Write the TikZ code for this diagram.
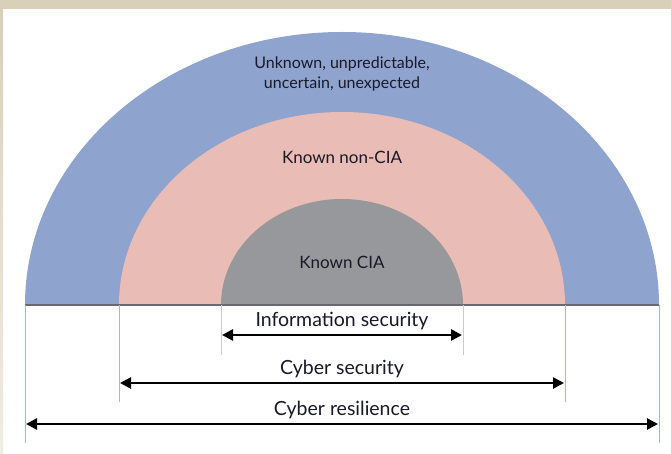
\documentclass[tikz,border=0pt]{standalone}
\usepackage{fontspec}
\setmainfont{Lato}
\usetikzlibrary{arrows.meta}
\definecolor{frame}{RGB}{216,208,184}
\definecolor{unknownblue}{RGB}{143,163,207}
\definecolor{noncia}{RGB}{233,188,181}
\definecolor{ciagray}{RGB}{150,152,156}
\definecolor{baseln}{RGB}{105,105,115}
\definecolor{ink}{RGB}{25,25,40}
\begin{document}
\begin{tikzpicture}[x=1pt,y=1pt,
  label/.style={text=ink,font=\fontsize{19.5}{22}\selectfont,align=center,inner sep=0pt},
  smalllabel/.style={text=ink,font=\fontsize{16}{20}\selectfont,align=center,inner sep=0pt},
  regionlabel/.style={text=ink,font=\fontsize{17}{20}\selectfont,align=center,inner sep=0pt},
  span/.style={line width=2.6pt,{Triangle[length=11pt,width=11pt]}-{Triangle[length=11pt,width=11pt]},shorten <=1pt,shorten >=1pt},
  tick/.style={line width=0.9pt}]
  % page frame
  \useasboundingbox (0,0) rectangle (671,453);
  \fill[white] (0,0) rectangle (671,453);
  \fill[frame] (0,444) rectangle (671,453);
  \shade[top color=frame,bottom color=frame!40] (0,0) rectangle (3,444);
  % nested half ellipses
  \fill[unknownblue] (25,148) arc[start angle=180,end angle=0,x radius=317,y radius=273] -- cycle;
  \fill[noncia] (119,148) arc[start angle=180,end angle=0,x radius=223,y radius=193] -- cycle;
  \fill[ciagray] (221,148) arc[start angle=180,end angle=0,x radius=121,y radius=106] -- cycle;
  \draw[baseln,line width=1.1pt] (25,148) -- (659,148);
  % extent ticks below the base line
  \coordinate (rL) at (25,148);  \coordinate (rR) at (659,148);
  \coordinate (cL) at (119,148); \coordinate (cR) at (565,148);
  \coordinate (iL) at (221,148); \coordinate (iR) at (463,148);
  \draw[tick,unknownblue!80] (rL) -- ++(0,-138);
  \draw[tick,unknownblue!80] (rR) -- ++(0,-138);
  \draw[tick,noncia!90!black] (cL) -- ++(0,-97);
  \draw[tick,noncia!90!black] (cR) -- ++(0,-97);
  \draw[tick,ciagray!50] (iL) -- ++(0,-50);
  \draw[tick,ciagray!50] (iR) -- ++(0,-50);
  % region labels
  \node[smalllabel] (unknown) at (342,379) {Unknown, unpredictable,\\uncertain, unexpected};
  \node[regionlabel] (noncia) at (342,296) {Known non-CIA};
  \node[regionlabel] (cia) at (342,191) {Known CIA};
  % scope arrows
  \coordinate (isA) at (221,118); \coordinate (isB) at (463,118);
  \coordinate (csA) at (119,70);  \coordinate (csB) at (565,70);
  \coordinate (crA) at (25,29);   \coordinate (crB) at (659,29);
  \draw[span] (isA) -- (isB);
  \draw[span] (csA) -- (csB);
  \draw[span] (crA) -- (crB);
  \node[label] (infosec) at (342,132) {Information security};
  \node[label] (cybersec) at (342,84) {Cyber security};
  \node[label] (cyberres) at (342,43) {Cyber resilience};
\end{tikzpicture}
\end{document}
